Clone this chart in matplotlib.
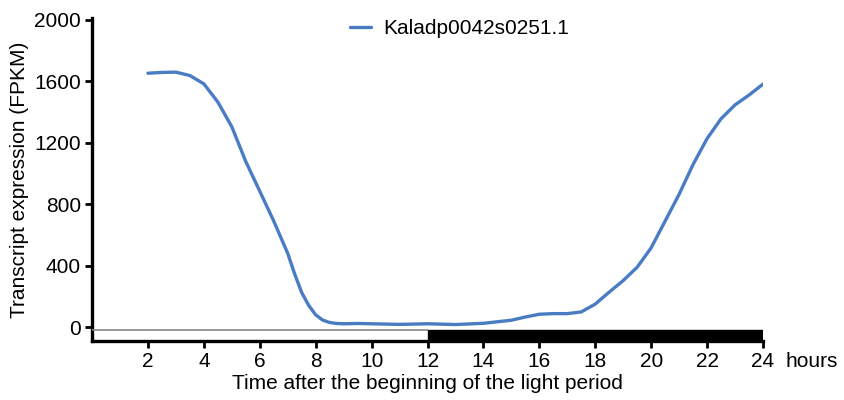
import matplotlib
matplotlib.use("Agg")
import matplotlib.pyplot as plt
from matplotlib.patches import Rectangle

plt.rcParams['font.family'] = ['Liberation Sans', 'DejaVu Sans']

# Expression profile over the 24 h cycle (hours after lights on, FPKM)
hours = [2, 2.5, 3, 3.5, 4, 4.5, 5, 5.5, 6, 6.5, 7, 7.25, 7.5, 7.75, 8, 8.25,
         8.5, 8.75, 9, 9.5, 10, 11, 12, 13, 14, 15, 15.5, 16, 16.5, 17, 17.5,
         18, 18.5, 19, 19.5, 20, 20.5, 21, 21.5, 22, 22.5, 23, 23.5, 24]
fpkm = [1651, 1656, 1658, 1636, 1582, 1464, 1303, 1077, 884, 690, 480, 345,
        225, 142, 80, 46, 30, 24, 22, 24, 22, 18, 22, 17, 25, 45, 66, 84, 88,
        88, 99, 150, 228, 303, 390, 516, 690, 864, 1058, 1226, 1355, 1445,
        1509, 1580]
gene = "Kaladp0042s0251.1"
xticks = [2, 4, 6, 8, 10, 12, 14, 16, 18, 20, 22, 24]
yticks = [0, 400, 800, 1200, 1600, 2000]

fig = plt.figure(figsize=(8.44, 4.0), dpi=100)
ax = fig.add_axes([92 / 844, 1 - 341 / 400, (763 - 92) / 844, (341 - 18) / 400])

ax.plot(hours, fpkm, color='#4a7cc4', lw=2.4, solid_capstyle='round',
        solid_joinstyle='round', label=gene)

# light / dark period bar along the bottom
ax.add_patch(Rectangle((0, -90), 12, 70, facecolor='white', edgecolor='none', zorder=2))
ax.hlines(-20, 0, 12, color='#888888', lw=1.2, zorder=3)
ax.add_patch(Rectangle((12, -90), 12, 70, facecolor='black', edgecolor='black', lw=1, zorder=3))

ax.set_xlim(0, 24)
ax.set_ylim(-90, 2010)
ax.set_xticks(xticks)
ax.set_xticklabels([str(t) for t in xticks])
ax.set_yticks(yticks)

for s in ('top', 'right'):
    ax.spines[s].set_visible(False)
for s in ('left', 'bottom'):
    ax.spines[s].set_linewidth(2.4)
ax.tick_params(axis='both', direction='out', length=5, width=2, labelsize=15, pad=3)
ax.spines['bottom'].set_zorder(4)

ax.annotate('hours', xy=(24, 0), xycoords=('data', 'axes fraction'),
            xytext=(16, -8), textcoords='offset points', ha='left', va='top', fontsize=15)

ax.set_xlabel('Time after the beginning of the light period', fontsize=15, labelpad=2)
ax.set_ylabel('Transcript expression (FPKM)', fontsize=15, labelpad=4)

ax.legend(loc='center', bbox_to_anchor=(0.548, 0.968), frameon=False, fontsize=15,
          handlelength=1.0, handletextpad=0.6, borderaxespad=0)

fig.savefig('out.png', dpi=100)
